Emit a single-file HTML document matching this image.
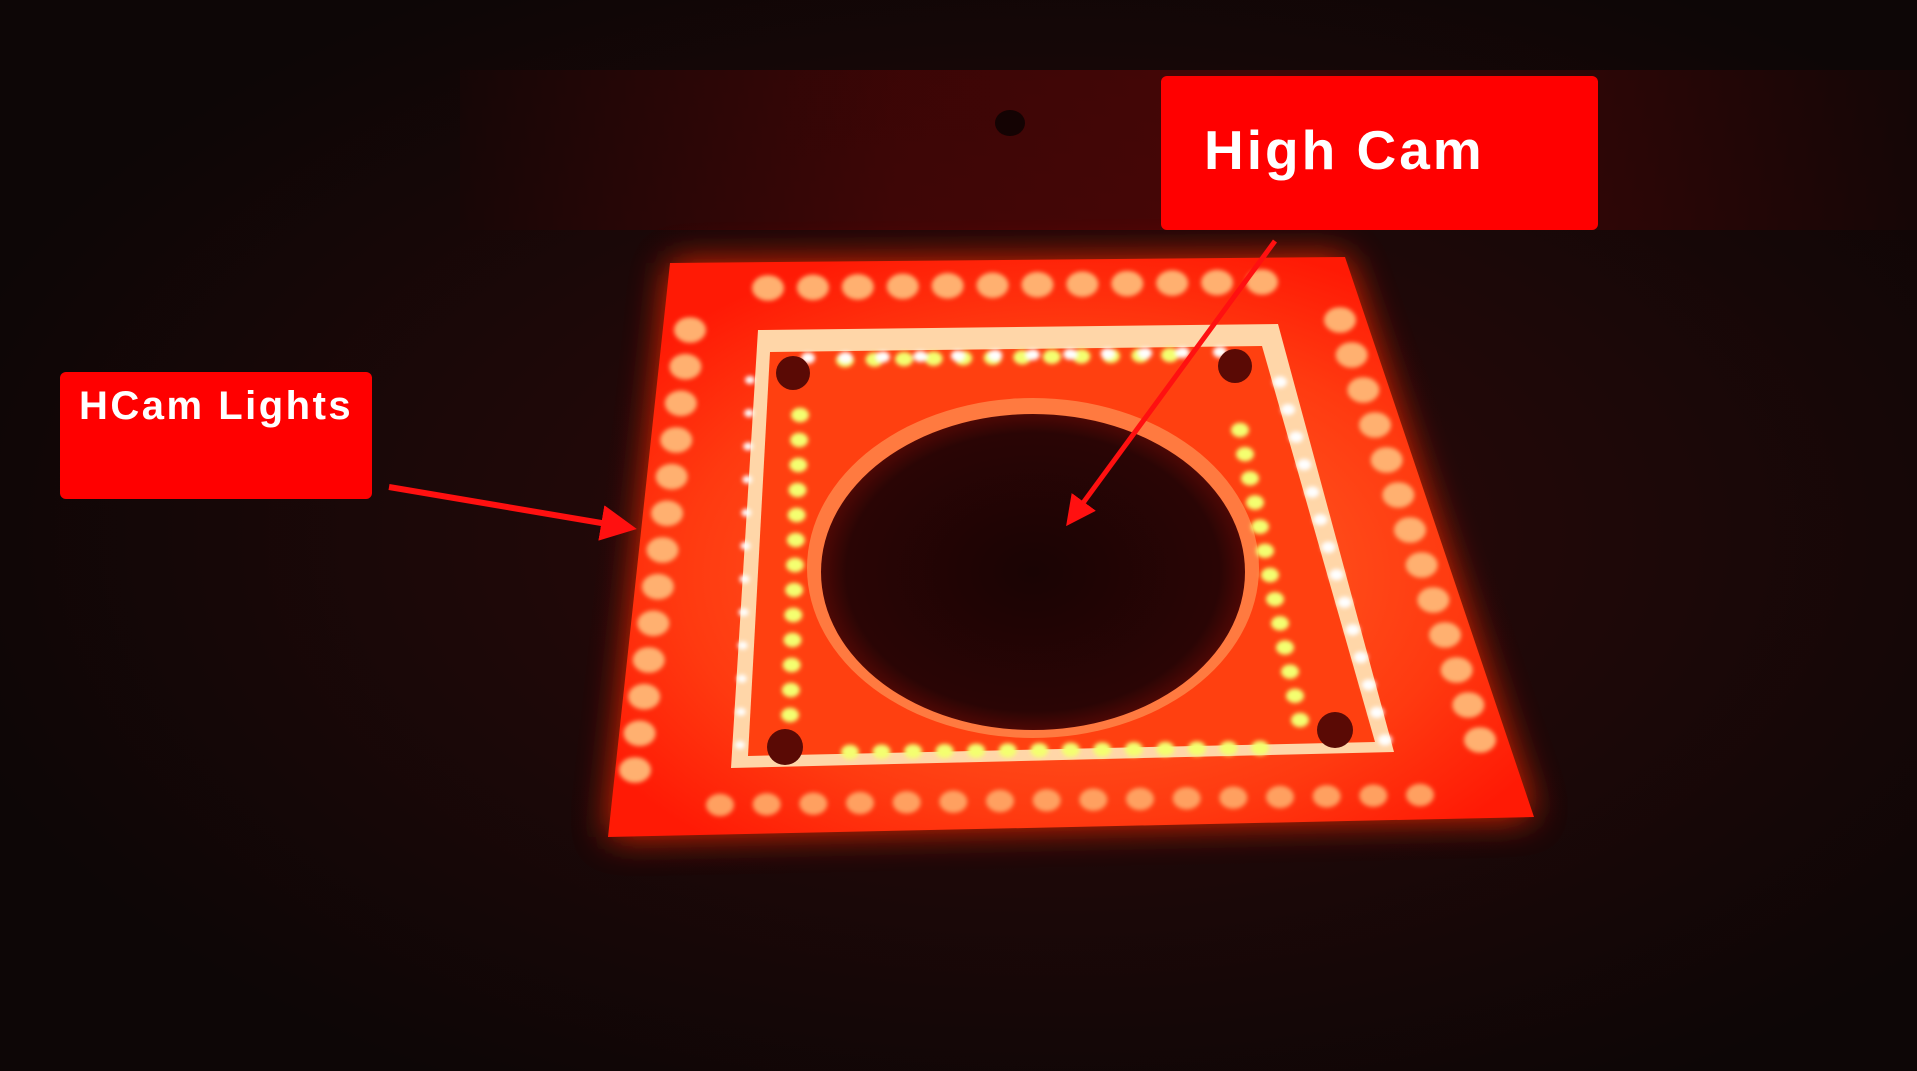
<!DOCTYPE html>
<html><head><meta charset="utf-8"><style>
html,body{margin:0;padding:0;background:#0b0606;width:1917px;height:1071px;overflow:hidden}
svg{display:block}
</style></head><body>
<svg id="s" width="1917" height="1071" viewBox="0 0 1917 1071" xmlns="http://www.w3.org/2000/svg">
<defs>
<radialGradient id="bg" cx="0.55" cy="0.5" r="0.6">
<stop offset="0" stop-color="#2e0a0a"/><stop offset="1" stop-color="#0d0606"/></radialGradient>
<linearGradient id="bar" x1="0" y1="0" x2="1" y2="0">
<stop offset="0" stop-color="#1a0505"/><stop offset="0.3" stop-color="#5a0404"/><stop offset="0.55" stop-color="#6a0505"/><stop offset="1" stop-color="#1a0606"/></linearGradient>
<radialGradient id="plate" cx="0.5" cy="0.55" r="0.6">
<stop offset="0" stop-color="#ff6a2a"/><stop offset="0.7" stop-color="#ff3a10"/><stop offset="1" stop-color="#ff1a05"/></radialGradient>
<radialGradient id="hole" cx="0.5" cy="0.5" r="0.55">
<stop offset="0" stop-color="#1a0404"/><stop offset="0.8" stop-color="#2a0505"/><stop offset="1" stop-color="#6a0a05"/></radialGradient>
<filter id="blur" x="-20%" y="-20%" width="140%" height="140%"><feGaussianBlur stdDeviation="18"/></filter>
<filter id="b2"><feGaussianBlur stdDeviation="2"/></filter>
<marker id="ah" markerWidth="6" markerHeight="6" refX="4" refY="3" orient="auto"><path d="M0,0 L6,3 L0,6 z" fill="#ff1010"/></marker>
</defs>
<rect width="1917" height="1071" fill="url(#bg)"/>
<rect x="460" y="70" width="1457" height="160" fill="url(#bar)" opacity="0.55"/>
<ellipse cx="1010" cy="123" rx="15" ry="13" fill="#140303"/>
<polygon points="670,263 1345,257 1534,817 608,837" fill="#ff2a08" filter="url(#blur)" opacity="0.9"/>
<polygon points="670,263 1345,257 1534,817 608,837" fill="url(#plate)"/>
<polygon points="758,330 1278,324 1394,752 731,768" fill="#ffd6a8"/>
<polygon points="770,352 1262,346 1375,742 748,756" fill="#ff4010"/>
<ellipse cx="1033" cy="568" rx="226" ry="170" fill="#ff7a40"/>
<ellipse cx="1033" cy="572" rx="212" ry="158" fill="url(#hole)"/>
<g id="leds" filter="url(#b2)"></g>
<circle cx="793" cy="373" r="17" fill="#5a0a05"/>
<circle cx="1235" cy="366" r="17" fill="#5a0a05"/>
<circle cx="785" cy="747" r="18" fill="#5a0a05"/>
<circle cx="1335" cy="730" r="18" fill="#5a0a05"/>
<rect x="1161" y="76" width="437" height="154" rx="6" fill="#ff0000"/>
<text x="1204" y="169" font-family="Liberation Sans, sans-serif" font-weight="bold" font-size="55" letter-spacing="3" fill="#fff">High Cam</text>
<rect x="60" y="372" width="312" height="127" rx="6" fill="#ff0000"/>
<text x="79" y="419" font-family="Liberation Sans, sans-serif" font-weight="bold" font-size="40" letter-spacing="2.5" fill="#fff">HCam Lights</text>
<line x1="389" y1="487" x2="625" y2="527" stroke="#ff1010" stroke-width="6" marker-end="url(#ah)"/>
<line x1="1275" y1="241" x2="1072" y2="518" stroke="#ff1010" stroke-width="5" marker-end="url(#ah)"/>
</svg>
<script>
var g=document.getElementById('leds');
function led(x,y,r,c){var e=document.createElementNS('http://www.w3.org/2000/svg','ellipse');
e.setAttribute('cx',x);e.setAttribute('cy',y);e.setAttribute('rx',r);e.setAttribute('ry',r*0.8);e.setAttribute('fill',c);


g.appendChild(e);}
function row(x1,y1,x2,y2,n,r,c){for(var i=0;i<n;i++){var t=i/(n-1);led(x1+(x2-x1)*t,y1+(y2-y1)*t,r,c);}}
row(768,288,1262,282,12,16,'#ffb070');
row(690,330,635,770,13,16,'#ffb070');
row(1340,320,1480,740,13,16,'#ffb070');
row(720,805,1420,795,16,14,'#ffa060');
row(845,360,1170,355,12,9,'#f4ff70');
row(800,415,790,715,13,9,'#f4ff70');
row(1240,430,1300,720,13,9,'#f4ff70');
row(850,752,1260,748,14,9,'#f4ff70');
row(808,358,1220,352,12,7,'#ffffff');
row(1280,382,1385,740,14,7,'#ffffff');
row(750,380,740,745,12,5,'#ffffff');
</script>
</body></html>
